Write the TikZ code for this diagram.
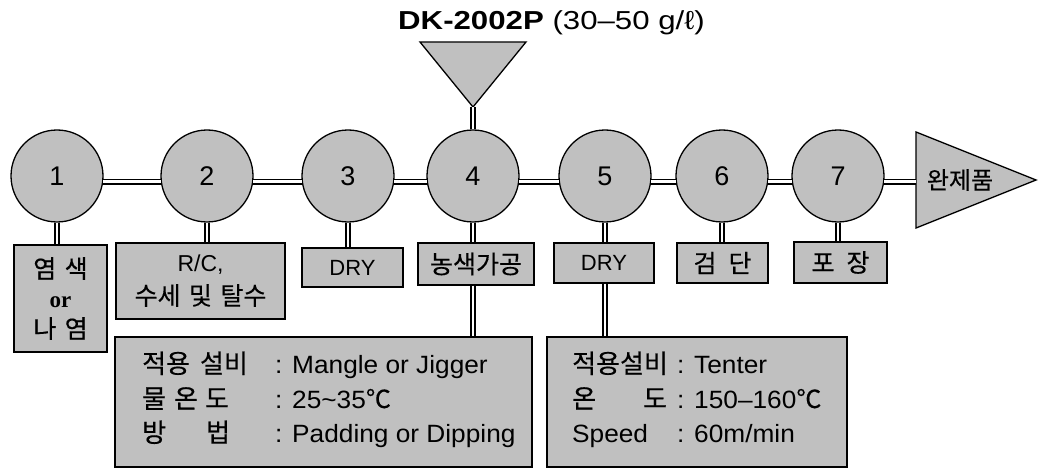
\documentclass[tikz,border=0pt]{standalone}
\usepackage{fontspec}
\setmainfont{Liberation Sans}
\newfontfamily\kr{Noto Sans CJK KR}[WordSpace=1.5, FakeBold=0.4]
\newfontfamily\latw{Liberation Sans}[FakeStretch=1.05]
\newfontfamily\widefont{Liberation Sans}[FakeStretch=1.2]
\newfontfamily\tms{Liberation Serif}
\definecolor{gfill}{RGB}{192,192,192}
\tikzset{
  circ/.style={circle, draw=black, fill=gfill, line width=1.3pt, minimum size=92pt, inner sep=0pt, font=\fontsize{27}{30}\selectfont},
  boxstyle/.style={draw=black, fill=gfill, line width=1.3pt, inner sep=0pt, align=center},
  smalltxt/.style={font=\fontsize{23}{30}\selectfont},
  bigtxt/.style={font=\fontsize{25}{30}\selectfont\latw, inner sep=0pt, anchor=base west},
  krbig/.style={font=\fontsize{26}{30}\selectfont\kr, inner sep=0pt, anchor=base west},
  link/.style={draw=black, line width=1.6pt, double=white, double distance=2.8pt},
  shapestyle/.style={draw=black, fill=gfill, line width=1.3pt, line join=miter}
}
\begin{document}
\begin{tikzpicture}[x=1pt,y=-1pt]
\useasboundingbox (0,0) rectangle (1050,468);

% title
\node[anchor=base west, inner sep=0pt, font=\fontsize{26}{28}\selectfont\widefont] (title) at (398,30)
  {\textbf{DK-2002P} (30–50 g/ℓ)};

% input triangle
\draw[shapestyle] (420,42) -- (526,42) -- (473,107) -- cycle;
\coordinate (tin) at (473,107);

% circles
\node[circ] (c1) at (57,176) {1};
\node[circ] (c2) at (207,176) {2};
\node[circ] (c3) at (348,176) {3};
\node[circ] (c4) at (473,176) {4};
\node[circ] (c5) at (605,176) {5};
\node[circ] (c6) at (722,176) {6};
\node[circ] (c7) at (838,176) {7};

% final arrow
\draw[shapestyle] (916,132) -- (1036,180) -- (916,228) -- cycle;
\coordinate (finL) at (916,180);
\node[font=\fontsize{24}{26}\selectfont\kr, inner sep=0pt] (fin) at (960,180) {완제품};

% small boxes
\node[boxstyle, smalltxt, minimum width=93pt, minimum height=107pt] (b1) at (60.5,298.5)
  {{\fontsize{25}{30}\selectfont\kr 염 색}\\{\tms\bfseries or}\\{\fontsize{25}{30}\selectfont\kr 나 염}};
\node[boxstyle, minimum width=169pt, minimum height=76pt, font=\fontsize{23}{33}\selectfont] (b2) at (200.5,281)
  {R/C,\\{\fontsize{25}{33}\selectfont\kr 수세 및 탈수}};
\node[boxstyle, font=\fontsize{22}{26}\selectfont, minimum width=101pt, minimum height=39pt] (b3) at (352.5,267.5) {DRY};
\node[boxstyle, font=\fontsize{25}{26}\selectfont\kr, minimum width=116pt, minimum height=42pt] (b4) at (476,264) {농색가공};
\node[boxstyle, font=\fontsize{22}{26}\selectfont, minimum width=100pt, minimum height=40pt] (b5) at (604,263) {DRY};
\node[boxstyle, font=\fontsize{25}{26}\selectfont\kr, minimum width=91pt, minimum height=40pt] (b6) at (722.5,263) {검\hspace{12pt}단};
\node[boxstyle, font=\fontsize{25}{26}\selectfont\kr, minimum width=93pt, minimum height=41pt] (b7) at (840.5,262.5) {포\hspace{12pt}장};

% big boxes
\node[boxstyle, minimum width=417pt, minimum height=130pt] (bA) at (323.5,402) {};
\node[boxstyle, minimum width=300pt, minimum height=130pt] (bB) at (697,402) {};

% text in box A
\node[krbig] (a1l) at (142,373) {적용\hspace{10pt}설비};
\node[bigtxt] (a1r) at (275,373) {: Mangle or Jigger};
\node[krbig] (a2l) at (142,408) {물\hspace{8pt}온\hspace{7pt}도};
\node[bigtxt] (a2r) at (275,408) {: 25\textasciitilde35{\kr ℃}};
\node[krbig] (a3l) at (142,442) {방\hspace{40pt}법};
\node[bigtxt] (a3r) at (275,442) {: Padding or Dipping};

% text in box B
\node[krbig] (bb1l) at (572,373) {적용설비};
\node[bigtxt] (bb1r) at (677,373) {: Tenter};
\node[krbig] (bb2l) at (572,408) {온\hspace{47pt}도};
\node[bigtxt] (bb2r) at (677,408) {: 150–160{\kr ℃}};
\node[bigtxt] (bb3l) at (572,442) {Speed};
\node[bigtxt] (bb3r) at (677,442) {: 60m/min};

% horizontal connectors
\draw[link] (c1.-7) -- (c2.187);
\draw[link] (c2.-7) -- (c3.187);
\draw[link] (c3.-7) -- (c4.187);
\draw[link] (c4.-7) -- (c5.187);
\draw[link] (c5.-7) -- (c6.187);
\draw[link] (c6.-7) -- (c7.187);
\draw[link] (c7.-7) -- (c7.-7 -| finL);

% input connector
\draw[link] (tin) -- (c4.north);

% vertical connectors
\draw[link] (c1.south) -- (c1.south |- b1.north);
\draw[link] (c2.south) -- (c2.south |- b2.north);
\draw[link] (c3.south) -- (c3.south |- b3.north);
\draw[link] (c4.south) -- (c4.south |- b4.north);
\draw[link] (c5.south) -- (c5.south |- b5.north);
\draw[link] (c6.south) -- (c6.south |- b6.north);
\draw[link] (c7.south) -- (c7.south |- b7.north);
\draw[link] (c4 |- b4.south) -- (c4 |- bA.north);
\draw[link] (c5 |- b5.south) -- (c5 |- bB.north);
\end{tikzpicture}
\end{document}
